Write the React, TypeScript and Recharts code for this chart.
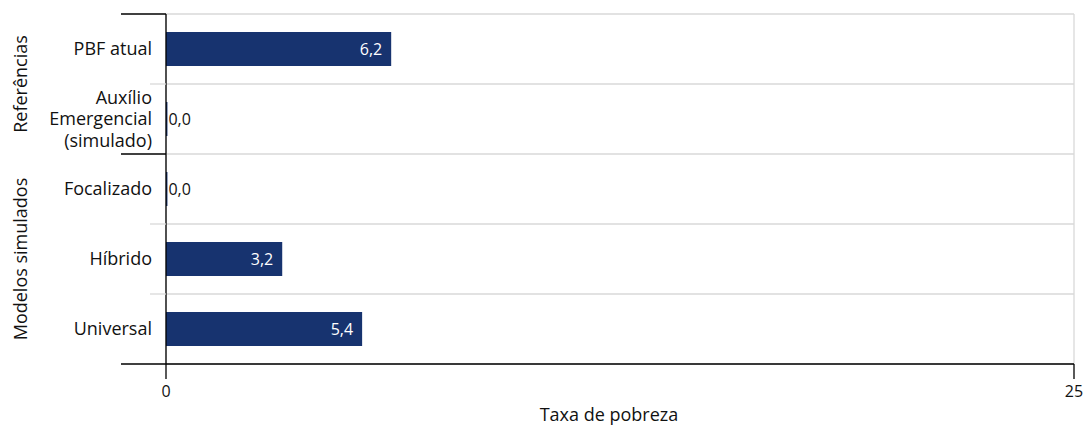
import React from 'react';
import { BarChart, Bar, XAxis, YAxis, CartesianGrid, LabelList, Label } from 'recharts';

// ---- data ----
const categories = ['PBF atual', 'Auxílio\nEmergencial\n(simulado)', 'Focalizado', 'Híbrido', 'Universal'];
const povertyRate = [6.2, 0.04, 0.04, 3.2, 5.4];
const groupNames = ['Referências', 'Modelos simulados'];
const groupSizes = [2, 3];
const xTicks = [0, 25];
const xDomain: [number, number] = [0, 25];
const xAxisTitle = 'Taxa de pobreza';

const data = categories.map((c, i) => ({ category: c, value: povertyRate[i] }));
const groupStarts: number[] = [];
{
  let s = 0;
  groupSizes.forEach((n) => {
    groupStarts.push(s);
    s += n;
  });
}

// ---- style ----
const FONT = "'Open Sans', 'Noto Sans', sans-serif";
const BAR = '#17336F';
const TEXT = '#111111';
const GRID = '#d9d9d9';
const W = 1085;
const H = 427;
const M_TOP = 14;
const M_RIGHT = 11;
const Y_W = 166;
const X_H = 63;
const TICK_MARGIN = 14;
const LINE_H = 21.5;
const PLOT_H = H - M_TOP - X_H;

const fmt = (v: number) => v.toFixed(1).replace('.', ',');

const CategoryTick = (props: any) => {
  const { x, y, payload } = props;
  const value = String(payload.value);
  const idx = categories.indexOf(value);
  const half = payload?.offset || PLOT_H / categories.length / 2;
  const axisX = x + TICK_MARGIN;
  const lines = value.split('\n');
  const gi = groupStarts.indexOf(idx);
  const isLast = idx === categories.length - 1;
  const topY = y - half;
  return (
    <g>
      {gi >= 0 ? (
        <line x1={axisX - 45} x2={axisX} y1={topY} y2={topY} stroke="#000" strokeWidth={1.3} />
      ) : (
        <line x1={axisX - 16} x2={axisX} y1={topY} y2={topY} stroke={GRID} strokeWidth={1.3} />
      )}
      {isLast && (
        <line x1={axisX - 45} x2={axisX} y1={y + half} y2={y + half} stroke="#000" strokeWidth={1.3} />
      )}
      {lines.map((ln, i) => (
        <text
          key={i}
          x={x}
          y={y + (i - (lines.length - 1) / 2) * LINE_H}
          dy="0.36em"
          textAnchor="end"
          fontSize={18}
          fontFamily={FONT}
          fill={TEXT}
        >
          {ln}
        </text>
      ))}
      {gi >= 0 && (() => {
        const cy = topY + half * groupSizes[gi];
        const cx = 20;
        return (
          <text
            x={cx}
            y={cy}
            transform={`rotate(-90 ${cx} ${cy})`}
            textAnchor="middle"
            dominantBaseline="central"
            fontSize={18}
            fontFamily={FONT}
            fill={TEXT}
          >
            {groupNames[gi]}
          </text>
        );
      })()}
    </g>
  );
};

const ValueLabel = (props: any) => {
  const { x, y, width, height, value } = props;
  const v = Number(value);
  const inside = v >= 0.5;
  const cy = y + height / 2;
  return (
    <text
      x={inside ? x + width - 9 : x + width + 1}
      y={cy}
      dy="0.36em"
      textAnchor={inside ? 'end' : 'start'}
      fontSize={16}
      fontFamily={FONT}
      fill={inside ? '#ffffff' : TEXT}
    >
      {fmt(v)}
    </text>
  );
};

const gridRows = ({ offset }: any) =>
  Array.from({ length: categories.length + 1 }, (_, i) => offset.top + (i * offset.height) / categories.length);

export default function App() {
  return (
    <div style={{ position: 'absolute', left: 0, top: 0, width: W, height: H, background: '#fff' }}>
      <BarChart
        width={W}
        height={H}
        data={data}
        layout="vertical"
        margin={{ top: M_TOP, right: M_RIGHT, bottom: 0, left: 0 }}
        barCategoryGap={0}
      >
        <CartesianGrid stroke={GRID} strokeWidth={1.3} horizontalCoordinatesGenerator={gridRows} />
        <XAxis
          type="number"
          domain={xDomain}
          ticks={xTicks}
          interval={0}
          height={X_H}
          tickSize={15}
          tickMargin={7}
          axisLine={{ stroke: '#000', strokeWidth: 1.3 }}
          tickLine={{ stroke: '#000', strokeWidth: 1.3 }}
          tick={{ fill: TEXT, fontSize: 16, fontFamily: FONT }}
        >
          <Label
            content={(p: any) => {
              const vb = p.viewBox || { x: Y_W, y: H - X_H, width: W - Y_W - M_RIGHT, height: X_H };
              return (
                <text
                  x={vb.x + vb.width / 2 - 11}
                  y={vb.y + 50}
                  textAnchor="middle"
                  dominantBaseline="central"
                  fontSize={18}
                  fontFamily={FONT}
                  fill={TEXT}
                >
                  {xAxisTitle}
                </text>
              );
            }}
          />
        </XAxis>
        <YAxis
          type="category"
          dataKey="category"
          width={Y_W}
          interval={0}
          tickLine={false}
          tickSize={0}
          tickMargin={TICK_MARGIN}
          axisLine={{ stroke: '#000', strokeWidth: 1.3 }}
          tick={(p: any) => <CategoryTick {...p} />}
        />
        <Bar dataKey="value" fill={BAR} barSize={34} isAnimationActive={false}>
          <LabelList dataKey="value" content={(p: any) => <ValueLabel {...p} />} />
        </Bar>
      </BarChart>
    </div>
  );
}
